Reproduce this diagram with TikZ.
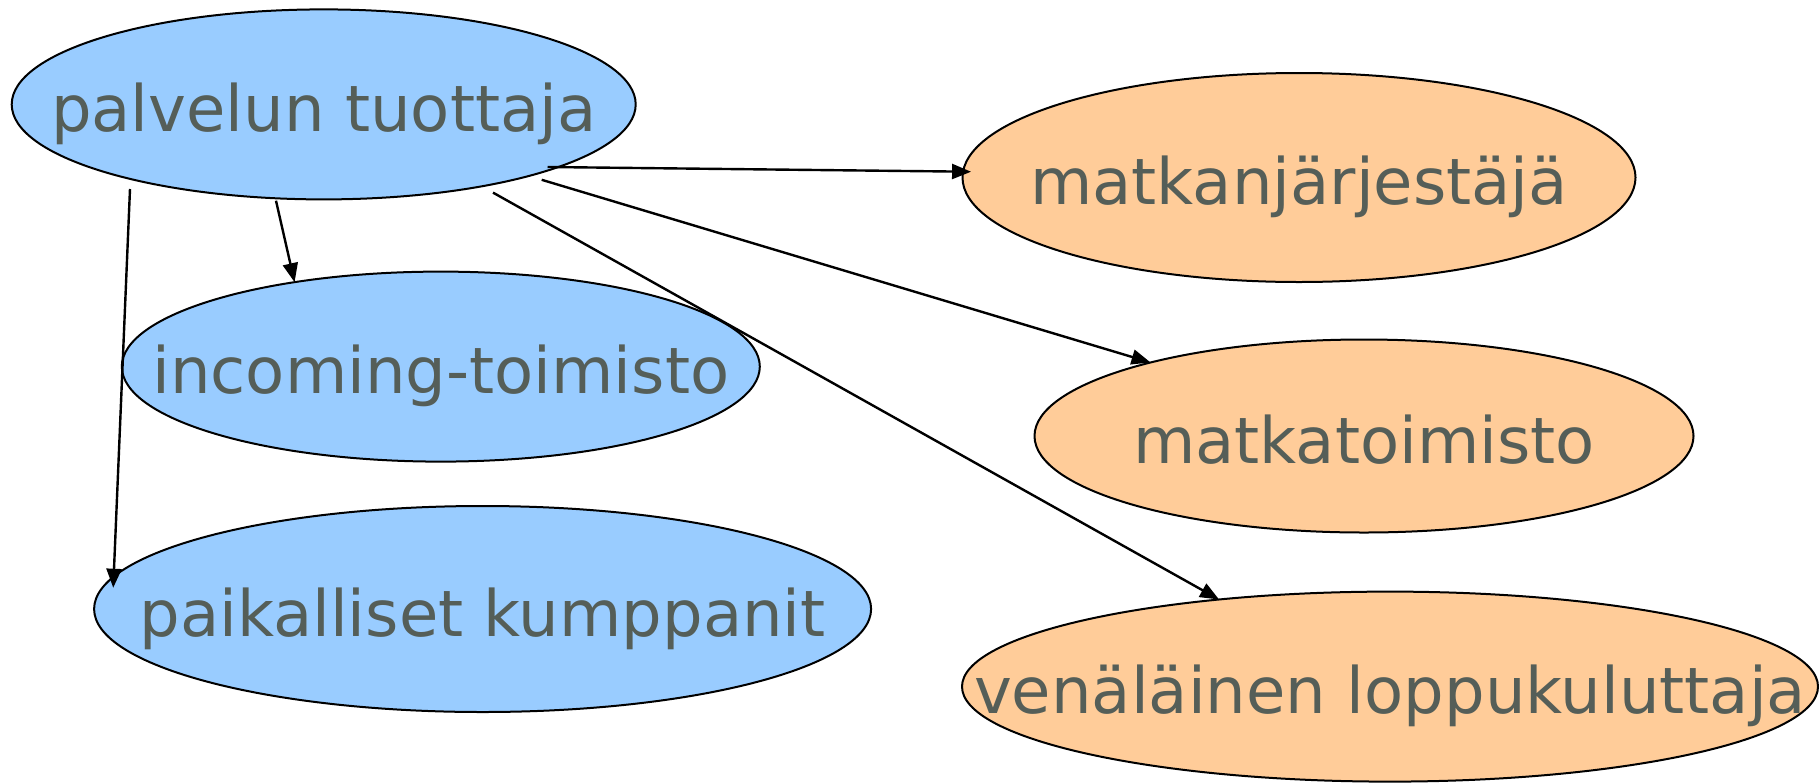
\documentclass[tikz,border=0pt]{standalone}
\usepackage{fontspec}
\setmainfont{DejaVu Sans}
\usetikzlibrary{shapes.geometric,arrows.meta}
\definecolor{provider}{HTML}{99CCFF}
\definecolor{client}{HTML}{FFCC99}
\definecolor{labelgray}{RGB}{85,94,88}
\tikzset{
  blob/.style={ellipse, draw=black, line width=2pt, inner sep=0pt, outer sep=0pt},
  prov/.style={blob, fill=provider},
  cli/.style={blob, fill=client},
  txt/.style={font=\fontsize{64pt}{70pt}\selectfont, text=labelgray,
              text height=48pt, text depth=14pt, inner sep=0pt, yshift=-10pt},
  link/.style={draw=black, line width=2.4pt, -{Triangle[length=19pt,width=15pt]}}
}
\begin{document}
\begin{tikzpicture}[x=1pt,y=-1pt]
  \useasboundingbox (0,0) rectangle (1819,782);

  % service providers (blue)
  \node[prov, minimum width=624pt, minimum height=190pt,
        label={[txt]center:palvelun tuottaja}] (A) at (323.7,104.4) {};
  \node[prov, minimum width=638pt, minimum height=190pt,
        label={[txt]center:incoming-toimisto}] (B) at (440.8,366.6) {};
  \node[prov, minimum width=777pt, minimum height=206pt,
        label={[txt]center:paikalliset kumppanit}] (C) at (482.6,609) {};

  % sales channel and customer (orange)
  \node[cli, minimum width=673pt, minimum height=209pt,
        label={[txt]center:matkanjärjestäjä}] (D) at (1299,177.5) {};
  \node[cli, minimum width=659pt, minimum height=193pt,
        label={[txt]center:matkatoimisto}] (E) at (1364,436) {};
  \node[cli, minimum width=856pt, minimum height=190pt,
        label={[txt]center:venäläinen loppukuluttaja}] (F) at (1390,686.6) {};

  % starting points of the connectors below the provider
  \coordinate (sD) at (547.5,167);
  \coordinate (sE) at (541.7,179.8);
  \coordinate (sF) at (493,192.6);
  \coordinate (sB) at (276,200.7);
  \coordinate (sC) at (130,189);

  \draw[link, shorten >=-8pt] (sD) -- (D.179.3);
  \draw[link] (sE) -- (E.161.3);
  \draw[link] (sF) -- (F.153.2);
  \draw[link] (sB) -- (B.150);
  \draw[link, shorten >=-11pt] (sC) -- (C.175);
\end{tikzpicture}
\end{document}
